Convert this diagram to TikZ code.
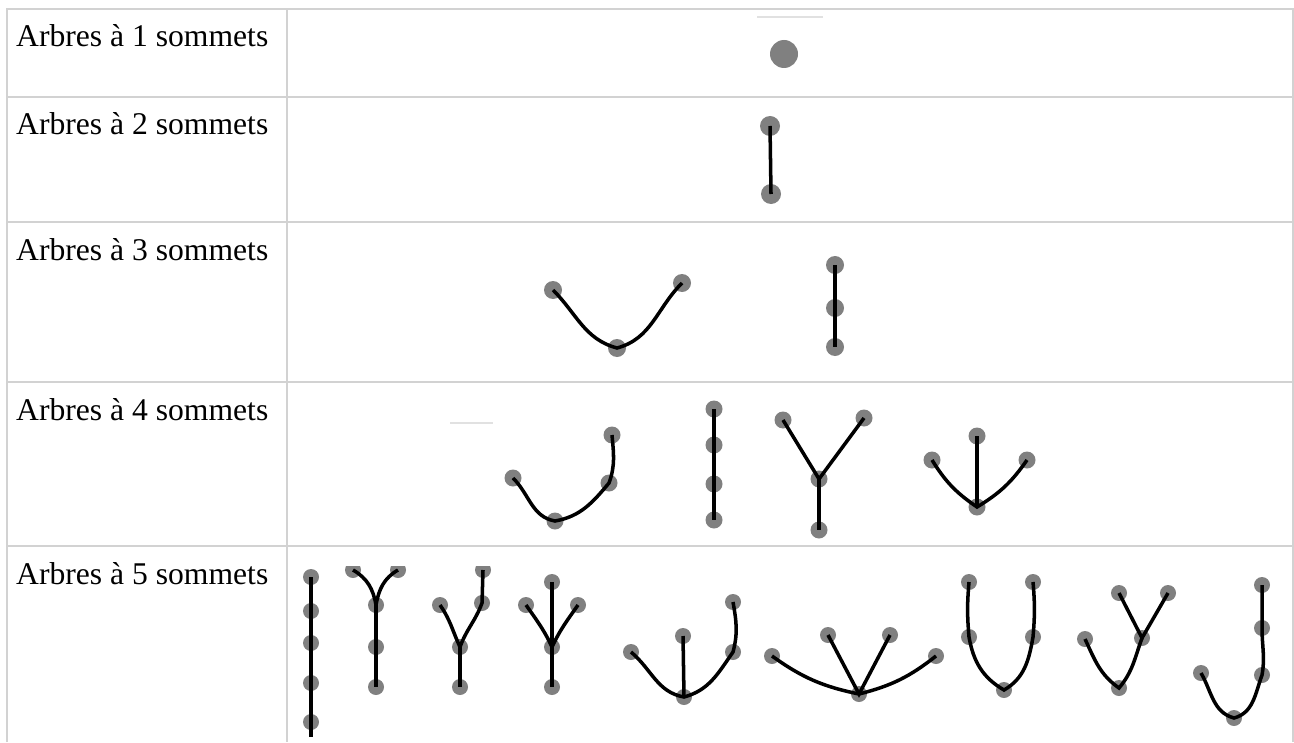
\documentclass[tikz,border=0pt]{standalone}
\usepackage{fontspec}
\setmainfont{Liberation Serif}
\definecolor{rulegray}{RGB}{210,210,210}
\definecolor{fadegray}{RGB}{225,225,225}
\definecolor{vertexgray}{RGB}{128,128,128}

\begin{document}
\begin{tikzpicture}[
		rule/.style={draw=rulegray, line width=0.6pt},
		rowtext/.style={anchor=base west, inner sep=0pt, font=\fontsize{9}{11}\selectfont},
		vtx/.style={circle, fill=vertexgray, inner sep=0pt, minimum size=#1},
		vtx/.default=1.6mm,
		edge/.style={black, line width=1pt}
	]
		\useasboundingbox (0,0) rectangle (12.94,-7.42);

		\draw[rule] (0.07,-7.42) -- (0.07,-0.09) -- (12.93,-0.09) -- (12.93,-7.42);
		\draw[rule] (2.87,-0.09) -- (2.87,-7.42);
		\foreach \y in {0.97,2.22,3.82,5.46}
			\draw[rule] (0.07,-\y) -- (12.93,-\y);
		\draw[fadegray, line width=0.6pt] (7.57,-0.17) -- (8.23,-0.17);
		\draw[fadegray, line width=0.6pt] (4.50,-4.23) -- (4.93,-4.23);

		\node[rowtext] (t1) at (0.155,-0.47) {Arbres à 1 sommets};
		\node[rowtext] (t2) at (0.155,-1.35) {Arbres à 2 sommets};
		\node[rowtext] (t3) at (0.155,-2.60) {Arbres à 3 sommets};
		\node[rowtext] (t4) at (0.155,-4.20) {Arbres à 4 sommets};
		\node[rowtext] (t5) at (0.155,-5.84) {Arbres à 5 sommets};

		\node[vtx=2.8mm] (a) at (7.84,-0.54) {};

		\node[vtx=2mm] (b1) at (7.70,-1.26) {};
		\node[vtx=2mm] (b2) at (7.71,-1.94) {};
		\draw[edge] (b1.center) -- (b2.center);

		\node[vtx=1.8mm] (c1) at (5.53,-2.90) {};
		\node[vtx=1.8mm] (c2) at (6.17,-3.48) {};
		\node[vtx=1.8mm] (c3) at (6.82,-2.83) {};
		\draw[edge] (c1.center) to[out=-45,in=165] (c2.center) to[out=15,in=-135] (c3.center);
		\node[vtx=1.8mm] (d1) at (8.35,-2.65) {};
		\node[vtx=1.8mm] (d2) at (8.35,-3.08) {};
		\node[vtx=1.8mm] (d3) at (8.35,-3.47) {};
		\draw[edge] (d1.center) -- (d3.center);

		\node[vtx=1.7mm] (e1) at (5.13,-4.78) {};
		\node[vtx=1.7mm] (e2) at (5.55,-5.21) {};
		\node[vtx=1.7mm] (e3) at (6.09,-4.83) {};
		\node[vtx=1.7mm] (e4) at (6.12,-4.35) {};
		\draw[edge] (e1.center) to[out=-45,in=170] (e2.center) to[out=10,in=-130] (e3.center) to[out=70,in=-85] (e4.center);
		\foreach \n/\y in {1/4.09,2/4.45,3/4.84,4/5.20}
			\node[vtx=1.7mm] (f\n) at (7.14,-\y) {};
		\draw[edge] (f1.center) -- (f4.center);
		\node[vtx=1.7mm] (g1) at (7.83,-4.20) {};
		\node[vtx=1.7mm] (g2) at (8.64,-4.18) {};
		\node[vtx=1.7mm] (g3) at (8.19,-4.79) {};
		\node[vtx=1.7mm] (g4) at (8.19,-5.30) {};
		\draw[edge] (g1.center) -- (g3.center) -- (g2.center);
		\draw[edge] (g3.center) -- (g4.center);
		\node[vtx=1.7mm] (h1) at (9.32,-4.60) {};
		\node[vtx=1.7mm] (h2) at (9.77,-4.36) {};
		\node[vtx=1.7mm] (h3) at (10.27,-4.60) {};
		\node[vtx=1.7mm] (h4) at (9.77,-5.07) {};
		\draw[edge] (h1.center) to[bend right=12] (h4.center) to[bend right=12] (h3.center);
		\draw[edge] (h2.center) -- (h4.center);

		\begin{scope}
			\clip (2.90,-5.66) rectangle (12.90,-7.42);
			\foreach \n/\y in {1/5.77,2/6.11,3/6.43,4/6.83,5/7.22}
				\node[vtx] (k\n) at (3.11,-\y) {};
			\coordinate (k6) at (3.11,-7.37);
			\draw[edge] (k1.center) -- (k6);

			\node[vtx] (m1) at (3.53,-5.70) {};
			\node[vtx] (m2) at (3.98,-5.70) {};
			\node[vtx] (m3) at (3.76,-6.05) {};
			\node[vtx] (m4) at (3.76,-6.47) {};
			\node[vtx] (m5) at (3.76,-6.87) {};
			\draw[edge] (m1.center) to[out=-30,in=100] (m3.center);
			\draw[edge] (m2.center) to[out=-150,in=80] (m3.center);
			\draw[edge] (m3.center) -- (m5.center);

			\node[vtx] (n1) at (4.40,-6.05) {};
			\node[vtx] (n2) at (4.83,-5.70) {};
			\node[vtx] (n3) at (4.82,-6.03) {};
			\node[vtx] (n4) at (4.60,-6.47) {};
			\node[vtx] (n5) at (4.60,-6.87) {};
			\draw[edge] (n1.center) to[out=-55,in=115] (n4.center);
			\draw[edge] (n2.center) -- (n3.center) to[out=-110,in=70] (n4.center);
			\draw[edge] (n4.center) -- (n5.center);

			\node[vtx] (p1) at (5.52,-5.82) {};
			\node[vtx] (p2) at (5.26,-6.05) {};
			\node[vtx] (p3) at (5.78,-6.05) {};
			\node[vtx] (p4) at (5.52,-6.47) {};
			\node[vtx] (p5) at (5.52,-6.87) {};
			\draw[edge] (p2.center) to[out=-55,in=115] (p4.center);
			\draw[edge] (p3.center) to[out=-125,in=65] (p4.center);
			\draw[edge] (p1.center) -- (p5.center);

			\node[vtx] (q1) at (6.31,-6.52) {};
			\node[vtx] (q2) at (6.83,-6.36) {};
			\node[vtx] (q3) at (6.84,-6.97) {};
			\node[vtx] (q4) at (7.33,-6.52) {};
			\node[vtx] (q5) at (7.33,-6.02) {};
			\draw[edge] (q1.center) to[out=-40,in=170] (q3.center) to[out=15,in=-125] (q4.center) to[out=75,in=-80] (q5.center);
			\draw[edge] (q2.center) -- (q3.center);

			\node[vtx] (s1) at (7.72,-6.56) {};
			\node[vtx] (s2) at (8.28,-6.35) {};
			\node[vtx] (s3) at (8.90,-6.35) {};
			\node[vtx] (s4) at (9.36,-6.56) {};
			\node[vtx] (s5) at (8.59,-6.94) {};
			\draw[edge] (s1.center) to[bend right=12] (s5.center) to[bend right=12] (s4.center);
			\draw[edge] (s2.center) -- (s5.center) -- (s3.center);

			\node[vtx] (u1) at (9.69,-5.82) {};
			\node[vtx] (u2) at (9.69,-6.37) {};
			\node[vtx] (u3) at (10.04,-6.90) {};
			\node[vtx] (u4) at (10.33,-6.37) {};
			\node[vtx] (u5) at (10.33,-5.82) {};
			\draw[edge] (u1.center) to[out=-95,in=95] (u2.center) to[out=-80,in=150] (u3.center) to[out=30,in=-100] (u4.center) to[out=85,in=-85] (u5.center);

			\node[vtx] (w1) at (11.19,-5.93) {};
			\node[vtx] (w2) at (11.68,-5.93) {};
			\node[vtx] (w3) at (11.42,-6.38) {};
			\node[vtx] (w4) at (10.85,-6.39) {};
			\node[vtx] (w5) at (11.19,-6.88) {};
			\draw[edge] (w4.center) to[out=-65,in=145] (w5.center) to[out=50,in=-110] (w3.center);
			\draw[edge] (w1.center) -- (w3.center) -- (w2.center);

			\node[vtx] (z1) at (12.01,-6.73) {};
			\node[vtx] (z2) at (12.34,-7.18) {};
			\node[vtx] (z3) at (12.62,-6.75) {};
			\node[vtx] (z4) at (12.62,-6.28) {};
			\node[vtx] (z5) at (12.62,-5.85) {};
			\draw[edge] (z1.center) to[out=-60,in=165] (z2.center) to[out=15,in=-110] (z3.center) to[out=80,in=-90] (z4.center) -- (z5.center);
		\end{scope}
	\end{tikzpicture}
\end{document}
